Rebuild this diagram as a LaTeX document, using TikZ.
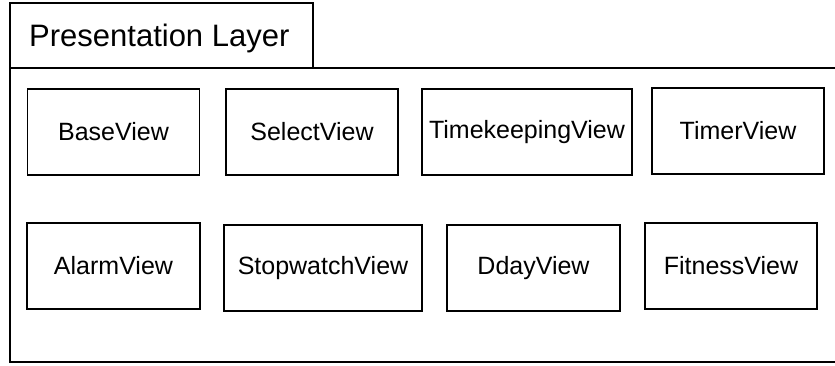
\documentclass[tikz,border=0pt]{standalone}
\usepackage{fontspec}
\setmainfont{Liberation Sans}
\begin{document}
\begin{tikzpicture}[x=1pt, y=-1pt,
  view/.style={draw, line width=1.2pt, rectangle, minimum width=172pt, minimum height=86pt, inner sep=0pt, font=\fontsize{25}{30}\selectfont}]
\useasboundingbox (0,0) rectangle (835,366);
\clip (0,0) rectangle (835,366);
\draw[line width=2pt] (10,3) rectangle (313,68);
\draw[line width=2pt] (10,68) rectangle (860,362);
\node[anchor=west, inner sep=0pt, font=\fontsize{31}{37}\selectfont] (title) at (29,38) {Presentation Layer};
\node[view] (vid0) at (113.5,132) {BaseView};
\node[view] (vid1) at (312,132) {SelectView};
\node[view, minimum width=210pt] (vid2) at (527,132) {TimekeepingView};
\node[view] (vid3) at (738,131) {TimerView};
\node[view, minimum width=173pt] (vid4) at (113.5,266) {AlarmView};
\node[view, minimum width=198pt] (vid5) at (323,268) {StopwatchView};
\node[view, minimum width=173pt] (vid6) at (533.5,268) {DdayView};
\node[view] (vid7) at (731,266) {FitnessView};
\end{tikzpicture}
\end{document}
